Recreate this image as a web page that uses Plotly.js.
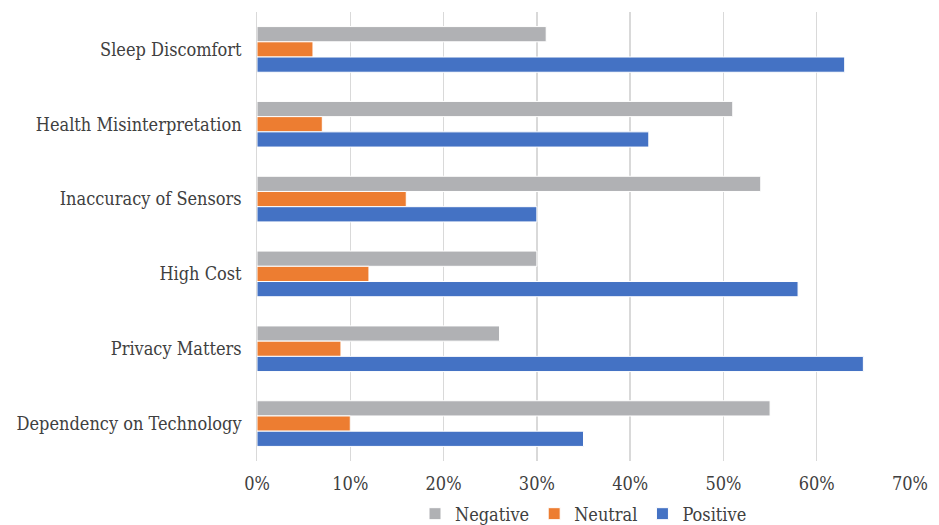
<!DOCTYPE html>
<html>
<head>
<meta charset="utf-8">
<script src="https://cdn.plot.ly/plotly-3.0.1.min.js"></script>
<style>html,body{margin:0;padding:0;background:#fff;}#chart{width:939px;height:525px;}</style>
</head>
<body>
<div id="chart"></div>
<script>
const categories = ["Sleep Discomfort", "Health Misinterpretation", "Inaccuracy of Sensors", "High Cost", "Privacy Matters", "Dependency on Technology"];
const negative = [0.31, 0.51, 0.54, 0.30, 0.26, 0.55];
const neutral = [0.06, 0.07, 0.16, 0.12, 0.09, 0.10];
const positive = [0.63, 0.42, 0.30, 0.58, 0.65, 0.35];
const tickVals = [0, 0.1, 0.2, 0.3, 0.4, 0.5, 0.6, 0.7];
const tickText = ["0%", "10%", "20%", "30%", "40%", "50%", "60%", "70%"];

const fontFam = '"DejaVu Serif Condensed", "DejaVu Serif", serif';
function mk(name, vals, color) {
  return {type: 'bar', orientation: 'h', name: name, x: vals, y: categories,
    marker: {color: color, line: {color: '#ffffff', width: 1}}, hoverinfo: 'x+y'};
}
const data = [
  mk('Negative', negative, '#B0B1B4'),
  mk('Neutral', neutral, '#ED7D31'),
  mk('Positive', positive, '#4472C4')
];
const layout = {
  width: 939, height: 525,
  margin: {l: 257, r: 29, t: 12, b: 64, autoexpand: false},
  paper_bgcolor: '#ffffff', plot_bgcolor: '#ffffff',
  font: {family: fontFam, size: 18, color: '#404040'},
  barmode: 'group', bargap: 0.39, bargroupgap: 0,
  showlegend: true,
  legend: {orientation: 'h', x: 0.5, xanchor: 'center', y: -0.118, yanchor: 'middle',
    font: {family: fontFam, size: 18, color: '#404040'}, itemwidth: 30, traceorder: 'normal'},
  xaxis: {range: [0, 0.7], tickvals: tickVals, ticktext: tickText, showgrid: true,
    gridcolor: '#D9D9D9', gridwidth: 1.5, zeroline: false, showline: false, ticks: 'outside',
    ticklen: 6, tickcolor: 'rgba(0,0,0,0)', automargin: false,
    tickfont: {family: fontFam, size: 18, color: '#404040'}, fixedrange: true},
  yaxis: {autorange: 'reversed', type: 'category', showline: true, linecolor: '#D9D9D9',
    linewidth: 1.5, ticks: '', showgrid: false, ticksuffix: '  ', automargin: false,
    tickfont: {family: fontFam, size: 18, color: '#404040'}}
};
Plotly.newPlot('chart', data, layout, {displayModeBar: false, staticPlot: true});
</script>
</body>
</html>
